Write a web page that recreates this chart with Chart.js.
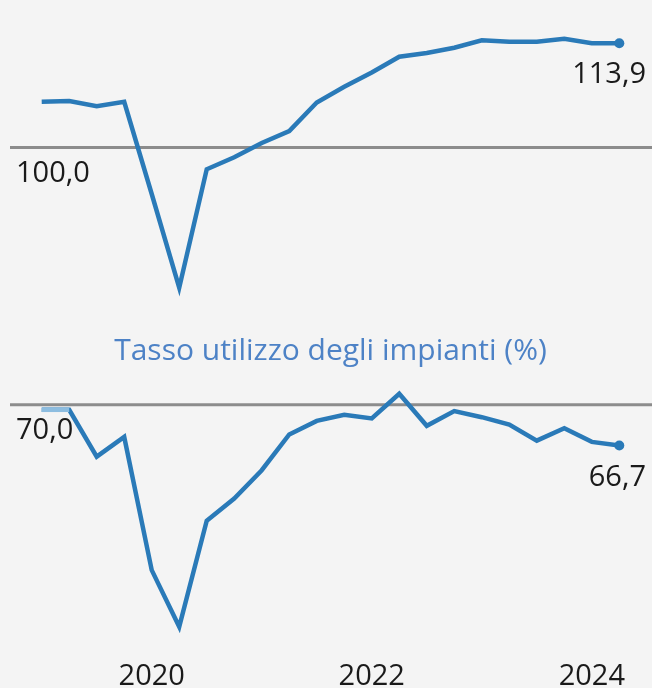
<!DOCTYPE html>
<html>
<head>
<meta charset="utf-8">
<script src="https://cdn.jsdelivr.net/npm/chart.js@4/dist/chart.umd.min.js"></script>
<style>
  html, body { margin: 0; padding: 0; background: #f4f4f4; overflow: hidden; width: 652px; height: 688px; }
  #top { position: absolute; left: 0; top: 0; width: 652px; height: 310px; }
  #bottom { position: absolute; left: 0; top: 310px; width: 652px; height: 388px; }
</style>
</head>
<body>
<div id="top"><canvas id="prodCanvas"></canvas></div>
<div id="bottom"><canvas id="utilCanvas"></canvas></div>
<script>
// trimestri 2019 T1 - 2024 T2
var trimestri = [
  '2019 T1', '2019 T2', '2019 T3', '2019 T4',
  '2020 T1', '2020 T2', '2020 T3', '2020 T4',
  '2021 T1', '2021 T2', '2021 T3', '2021 T4',
  '2022 T1', '2022 T2', '2022 T3', '2022 T4',
  '2023 T1', '2023 T2', '2023 T3', '2023 T4',
  '2024 T1', '2024 T2'
];
var anniAsse = ['2020', '2022', '2024'];

var produzione = [106.1, 106.2, 105.5, 106.1, 93.8, 81.3, 97.1, 98.7, 100.6, 102.2, 106.0,
                  108.1, 110.0, 112.1, 112.6, 113.3, 114.3, 114.1, 114.1, 114.5, 113.9, 113.9];
var riferimentoProd = 100.0;

var utilizzo = [69.6, 69.6, 65.8, 67.4, 56.6, 52.0, 60.6, 62.4, 64.7, 67.6, 68.7,
                69.2, 68.9, 70.9, 68.3, 69.5, 69.0, 68.4, 67.1, 68.1, 67.0, 66.7];
var utilizzoInizio = [69.6, 69.6];
var riferimentoUtil = 70.0;

var blu = '#2a7ab8';
var bluChiaro = '#8dbde0';
var grigio = '#8c8c8c';
var fontNum = '29px "Open Sans"';

function fmt(v) {
  return v.toFixed(1).replace('.', ',');
}

// linea grigia di riferimento con etichetta + valore dell'ultimo punto
var refLine = {
  id: 'refLine',
  beforeDatasetsDraw: function(chart, args, opts) {
    var ctx = chart.ctx;
    var y = chart.scales.y.getPixelForValue(opts.value);
    ctx.save();
    ctx.strokeStyle = grigio;
    ctx.lineWidth = 3;
    ctx.beginPath();
    ctx.moveTo(10, y);
    ctx.lineTo(chart.width, y);
    ctx.stroke();
    ctx.fillStyle = '#1a1a1a';
    ctx.font = fontNum;
    ctx.textAlign = 'left';
    ctx.textBaseline = 'alphabetic';
    ctx.fillText(fmt(opts.value), 16, y + 34.5);
    ctx.restore();
  },
  afterDatasetsDraw: function(chart, args, opts) {
    var ctx = chart.ctx;
    var meta = chart.getDatasetMeta(opts.dataset);
    var data = chart.data.datasets[opts.dataset].data;
    var last = meta.data[data.length - 1];
    ctx.save();
    ctx.fillStyle = '#1a1a1a';
    ctx.font = fontNum;
    ctx.textAlign = 'right';
    ctx.textBaseline = 'alphabetic';
    ctx.fillText(fmt(data[data.length - 1]), 646, last.y + 40);
    ctx.restore();
  }
};

function lastPointRadius(c) {
  return c.dataIndex === c.dataset.data.length - 1 ? 5 : 0;
}

new Chart(document.getElementById('prodCanvas'), {
  type: 'line',
  data: {
    labels: trimestri,
    datasets: [{
      data: produzione,
      borderColor: blu,
      backgroundColor: blu,
      borderWidth: 4.5,
      pointRadius: lastPointRadius,
      pointBorderWidth: 0,
      tension: 0,
      clip: false
    }]
  },
  options: {
    responsive: true,
    maintainAspectRatio: false,
    animation: false,
    layout: { padding: { left: 41.7, right: 32.7, top: 0, bottom: 0 } },
    plugins: {
      legend: { display: false },
      tooltip: { enabled: false },
      refLine: { value: riferimentoProd, dataset: 0 }
    },
    scales: {
      x: { display: false },
      y: { display: false, min: 79, max: 119 }
    }
  },
  plugins: [refLine]
});

new Chart(document.getElementById('utilCanvas'), {
  type: 'line',
  data: {
    labels: trimestri,
    datasets: [{
      data: utilizzoInizio,
      borderColor: bluChiaro,
      borderWidth: 4.5,
      pointRadius: 0,
      tension: 0,
      clip: false,
      order: 0
    }, {
      data: utilizzo,
      borderColor: blu,
      backgroundColor: blu,
      borderWidth: 4.5,
      pointRadius: lastPointRadius,
      pointBorderWidth: 0,
      tension: 0,
      clip: false,
      order: 1
    }]
  },
  options: {
    responsive: true,
    maintainAspectRatio: false,
    animation: false,
    layout: { padding: { left: 41.7, right: 32.7, top: 0, bottom: 0 } },
    plugins: {
      legend: { display: false },
      tooltip: { enabled: false },
      title: {
        display: true,
        text: 'Tasso utilizzo degli impianti (%)',
        color: '#4d82c6',
        font: { family: '"Open Sans"', size: 30, weight: 'normal', lineHeight: 1.2 },
        padding: { top: 23, bottom: 11.2 }
      },
      refLine: { value: riferimentoUtil, dataset: 1 }
    },
    scales: {
      x: {
        border: { display: false },
        grid: { display: false, drawTicks: false },
        ticks: {
          autoSkip: false,
          maxRotation: 0,
          padding: 4,
          color: '#1a1a1a',
          font: { family: '"Open Sans"', size: 29, lineHeight: 1.2 },
          callback: function(v, i) {
            var t = trimestri[i];
            var anno = t.slice(0, 4);
            return (t.slice(5) === 'T1' && anniAsse.indexOf(anno) >= 0) ? anno : '';
          }
        }
      },
      y: { display: false, min: 49.7, max: 72 }
    }
  },
  plugins: [refLine]
});
</script>
</body>
</html>
